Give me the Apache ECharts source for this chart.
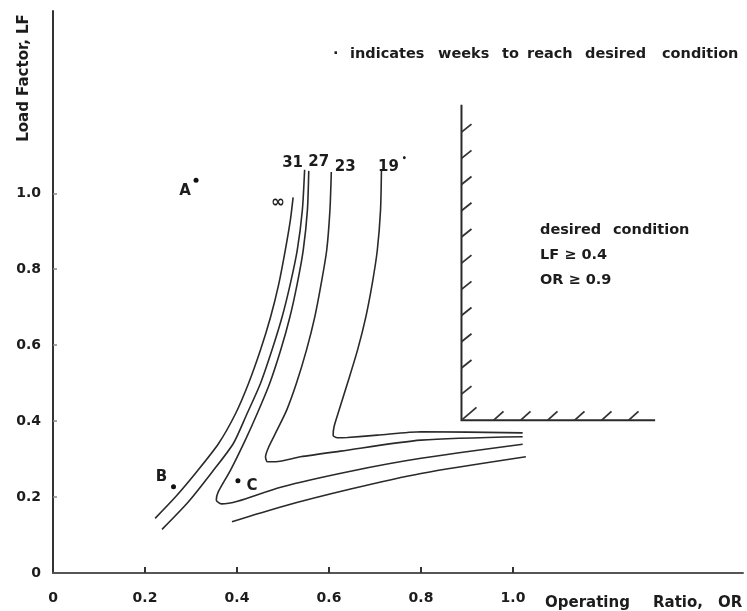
<!DOCTYPE html>
<html><head><meta charset="utf-8">
<script src="https://cdn.jsdelivr.net/npm/echarts@6/dist/echarts.min.js"></script>
<style>html,body{margin:0;padding:0;background:#fff}#c{width:747px;height:611px}</style>
</head><body><div id="c"></div>
<script>
// ---------- DATA ----------
const xLabelValues = [0, 0.2, 0.4, 0.6, 0.8, 1.0];
const xTickValues = [0.2, 0.4, 0.6, 0.8, 1.0];
const yLabelValues = [0, 0.2, 0.4, 0.6, 0.8, 1.0];
const yTickValues = [0.2, 0.4, 0.6, 0.8, 1.0];

// curve "∞"
const curveInfOR = [0.522,0.516,0.505,0.491,0.473,0.451,0.425,0.397,0.360,0.312,0.266,0.222];
const curveInfLF = [0.989,0.929,0.850,0.762,0.674,0.587,0.499,0.420,0.341,0.266,0.200,0.144];
// curve "31"
const curve31OR = [0.547,0.542,0.531,0.516,0.498,0.476,0.451,0.422,0.392,0.346,0.294,0.237];
const curve31LF = [1.062,0.955,0.850,0.762,0.674,0.587,0.499,0.420,0.341,0.266,0.187,0.115];
// curve "27"
const curve27OR = [0.556,0.553,0.544,0.531,0.515,0.495,0.471,0.444,0.418,0.386,0.359,0.355,0.366,0.401,0.495,0.647,0.800,1.021];
const curve27LF = [1.059,0.955,0.850,0.762,0.674,0.587,0.499,0.420,0.350,0.271,0.213,0.192,0.182,0.189,0.226,0.268,0.302,0.339];
// curve "23"
const curve23OR = [0.605,0.602,0.595,0.583,0.569,0.551,0.529,0.508,0.487,0.469,0.462,0.466,0.484,0.538,0.625,0.800,1.021];
const curve23LF = [1.056,0.955,0.850,0.762,0.674,0.587,0.499,0.429,0.376,0.332,0.306,0.293,0.293,0.306,0.321,0.350,0.359];
// curve "19"
const curve19OR = [0.714,0.712,0.705,0.694,0.680,0.662,0.640,0.622,0.611,0.609,0.618,0.640,0.705,0.800,1.021];
const curve19LF = [1.061,0.955,0.850,0.762,0.674,0.587,0.499,0.429,0.385,0.363,0.356,0.357,0.363,0.372,0.369];
// lower unlabeled branch
const lowerBranchOR = [0.389,0.495,0.647,0.800,1.028];
const lowerBranchLF = [0.135,0.174,0.221,0.262,0.306];

// points A, B, C
const pointNames = ['A', 'B', 'C'];
const pointOR = [0.311, 0.262, 0.402];
const pointLF = [1.034, 0.227, 0.243];

// desired condition region boundary (as drawn)
const desiredOR = 0.888;
const desiredLF = 0.402;
const boundaryTopLF = 1.233;
const boundaryRightOR = 1.309;

const curveNames = ['∞', '31', '27', '23', '19'];

// ---------- BUILD ----------
const zip = (a, b) => a.map((v, i) => [v, b[i]]);
const curves = [
  zip(curveInfOR, curveInfLF),
  zip(curve31OR, curve31LF),
  zip(curve27OR, curve27LF),
  zip(curve23OR, curve23LF),
  zip(curve19OR, curve19LF)
];
const INK = '#1c1c1c';
const FONT = 'DejaVu Sans';
const labelOffsets = [[-15, 5], [-12, -7], [10, -9], [14, -5], [11, -3]];
const pointLabelOffsets = [[-11, 11], [-12, -10], [14, 5]];

const series = [];
curves.forEach((d, i) => {
  series.push({
    type: 'line', name: curveNames[i], data: d, smooth: 0.25, symbol: 'none',
    lineStyle: { color: '#2a2a2a', width: 1.6 }, silent: true, z: 3
  });
});
series.push({
  type: 'line', name: 'lower', data: zip(lowerBranchOR, lowerBranchLF), smooth: 0.25, symbol: 'none',
  lineStyle: { color: '#2a2a2a', width: 1.6 }, silent: true, z: 3
});
const baseLabel = {
  show: true, position: [0, 0], align: 'center', verticalAlign: 'middle',
  fontFamily: FONT, fontWeight: 'bold', color: INK, opacity: 1,
  textBorderWidth: 0, textShadowBlur: 0
};
// curve labels at curve tops
series.push({
  type: 'scatter', symbolSize: 0, silent: true, z: 5,
  itemStyle: { color: INK },
  data: curves.map((d, i) => ({
    value: d[0], name: curveNames[i],
    label: Object.assign({}, baseLabel, {
      offset: labelOffsets[i],
      formatter: curveNames[i] === '19' ? '{n|19}{d|•}' : curveNames[i],
      fontSize: curveNames[i] === '∞' ? 17 : 15,
      rich: {
        n: { fontSize: 15, fontWeight: 'bold', fontFamily: FONT, color: INK, lineHeight: 24 },
        d: { fontSize: 8, fontFamily: FONT, color: INK, verticalAlign: 'top', padding: [0, 0, 0, 3] }
      }
    })
  }))
});
// A, B, C points
series.push({
  type: 'scatter', symbol: 'circle', symbolSize: 5, silent: true, z: 5,
  itemStyle: { color: '#111', opacity: 1 },
  data: pointNames.map((n, i) => ({
    value: [pointOR[i], pointLF[i]], name: n,
    label: Object.assign({}, baseLabel, {
      position: [2.5, 2.5], offset: pointLabelOffsets[i], formatter: n, fontSize: 15
    })
  }))
});
// hatched boundary of desired condition
series.push({
  type: 'custom', silent: true, clip: false, z: 4,
  encode: { x: [0, 3], y: [1, 2] },
  data: [[desiredOR, desiredLF, boundaryTopLF, boundaryRightOR]],
  renderItem: function (params, api) {
    const c = api.coord([api.value(0), api.value(1)]);
    const t = api.coord([api.value(0), api.value(2)]);
    const r = api.coord([api.value(3), api.value(1)]);
    const hs = { stroke: '#333', lineWidth: 1.8 };
    const seg = (x1, y1, x2, y2) => ({ type: 'line', shape: { x1, y1, x2, y2 }, style: hs });
    const children = [{ type: 'polyline', shape: { points: [t, c, r] }, style: { stroke: '#2a2a2a', lineWidth: 2, fill: 'none' } }];
    children.push(seg(c[0] + 1, c[1] - 1, c[0] + 15, c[1] - 13));
    for (let y = c[1] - 26.2; y >= t[1] + 20; y -= 26.2) children.push(seg(c[0], y, c[0] + 10, y - 8));
    for (let x = c[0] + 32; x <= r[0] - 25; x += 27) children.push(seg(x, c[1], x + 10, c[1] - 9));
    return { type: 'group', children };
  }
});

const textEl = (text, x, y, size, extra) => Object.assign({
  type: 'text', x, y, silent: true,
  style: { text, fill: INK, font: `bold ${size}px "${FONT}"`, textAlign: 'left', textVerticalAlign: 'middle' }
}, extra || {});

const noteWords = ['·', 'indicates', 'weeks', 'to', 'reach', 'desired', 'condition'];
const noteX = [333, 350, 438, 502, 527, 585, 662];
const graphics = noteWords.map((w, i) => textEl(w, noteX[i], 54, 14.5));
graphics.push(textEl('desired', 540, 230, 14.5));
graphics.push(textEl('condition', 613, 230, 14.5));
graphics.push(textEl('LF ≥ 0.4', 540, 255, 14.5));
graphics.push(textEl('OR ≥ 0.9', 540, 280, 14.5));
const xNameWords = ['Operating', 'Ratio,', 'OR'];
const xNameX = [545, 653, 718];
xNameWords.forEach((w, i) => graphics.push(textEl(w, xNameX[i], 603, 15)));
graphics.push({
  type: 'text', x: 24, y: 78, rotation: Math.PI / 2, silent: true,
  style: { text: 'Load Factor, LF', fill: INK, font: `bold 15px "${FONT}"`, textAlign: 'center', textVerticalAlign: 'middle' }
});

const fmt = v => (v === 0 ? '0' : v.toFixed(1));
const chart = echarts.init(document.getElementById('c'), null, { renderer: 'canvas' });
chart.setOption({
  animation: false,
  backgroundColor: '#fff',
  grid: { left: 53, right: 4, top: 11, bottom: 38, outerBoundsMode: 'none' },
  xAxis: {
    type: 'value', min: 0, max: 1.5,
    axisLine: { show: true, lineStyle: { color: '#555', width: 2 } },
    splitLine: { show: false },
    axisTick: { show: true, inside: true, length: 6, customValues: xTickValues, lineStyle: { color: '#333', width: 2 } },
    axisLabel: { customValues: xLabelValues, formatter: fmt, margin: 18, fontSize: 14, fontWeight: 'bold', fontFamily: FONT, color: INK }
  },
  yAxis: {
    type: 'value', min: 0, max: 1.48,
    axisLine: { show: true, lineStyle: { color: '#333', width: 2 } },
    splitLine: { show: false },
    axisTick: { show: true, inside: true, length: 4, customValues: yTickValues, lineStyle: { color: '#888', width: 1.5 } },
    axisLabel: { customValues: yLabelValues, formatter: fmt, margin: 12, fontSize: 14, fontWeight: 'bold', fontFamily: FONT, color: INK }
  },
  graphic: graphics,
  series
});
</script></body></html>
